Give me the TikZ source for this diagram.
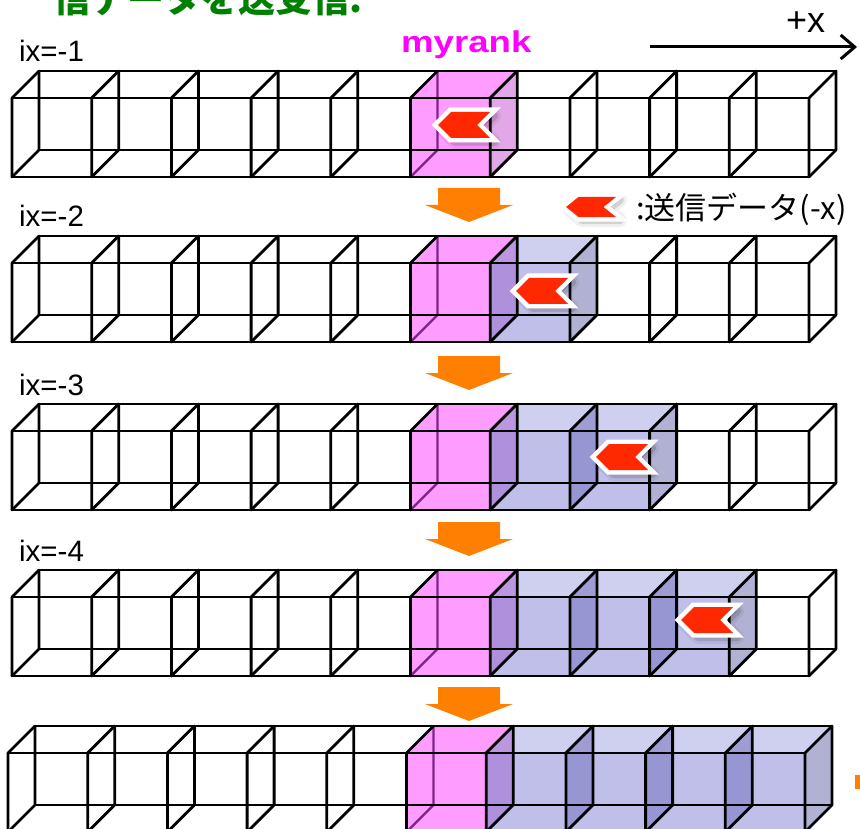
\documentclass[tikz,border=0pt]{standalone}
\usepackage{fontspec}
\setmainfont{Liberation Sans}
\newfontfamily\jp{Noto Sans CJK JP}
\usetikzlibrary{arrows.meta}
\definecolor{tgreen}{RGB}{0,128,0}
\definecolor{mag}{RGB}{255,0,255}
\definecolor{magside}{RGB}{190,60,200}
\definecolor{bfront}{RGB}{120,120,210}
\definecolor{bside}{RGB}{100,100,170}
\definecolor{hidpurple}{RGB}{125,35,140}
\definecolor{chevred}{RGB}{255,40,0}
\definecolor{orng}{RGB}{255,128,0}
\newcommand\cubeW{79.7}
\newcommand\cubeH{79}
\newcommand\cubeD{27}
\tikzset{
  edge/.style={line width=2.8pt, black, line cap=round, line join=round},
  hiddenedge/.style={line width=2.4pt, hidpurple, line cap=round},
  lbl/.style={anchor=base west, inner sep=0pt},
}
\newcommand\cubefaces[7]{%
  \pgfmathsetmacro\xa{#1*\cubeW}\pgfmathsetmacro\xb{(#1+1)*\cubeW}%
  \fill[#2, fill opacity=#3] (\xa,0) rectangle (\xb,\cubeH);
  \fill[#4, fill opacity=#5] (\xa,0) -- (\xb,0) -- (\xb+\cubeD,-\cubeD) -- (\xa+\cubeD,-\cubeD) -- cycle;
  \fill[#6, fill opacity=#7] (\xb,0) -- (\xb+\cubeD,-\cubeD) -- (\xb+\cubeD,\cubeH-\cubeD) -- (\xb,\cubeH) -- cycle;
}
\newcommand\cuberow[3]{%
  \begin{scope}[shift={(#1,#2)}]
    \cubefaces{5}{mag}{0.39}{mag}{0.39}{magside}{0.45}
    \ifnum#3>0
      \pgfmathtruncatemacro\lastb{5+#3}%
      \foreach \k in {6,...,\lastb}{\cubefaces{\k}{bfront}{0.47}{bfront}{0.35}{bside}{0.5}}
    \fi
    \draw[hiddenedge] (5*\cubeW+\cubeD,-\cubeD) -- (5*\cubeW+\cubeD,\cubeH-\cubeD)
      (5*\cubeW,\cubeH) -- (5*\cubeW+\cubeD,\cubeH-\cubeD);
    \draw[edge] (0,0) -- (10*\cubeW,0) (0,\cubeH) -- (10*\cubeW,\cubeH)
      (\cubeD,-\cubeD) -- (10*\cubeW+\cubeD,-\cubeD)
      (\cubeD,\cubeH-\cubeD) -- (10*\cubeW+\cubeD,\cubeH-\cubeD);
    \foreach \k in {0,...,10}{%
      \pgfmathsetmacro\xa{\k*\cubeW}%
      \draw[edge] (\xa,0) -- (\xa,\cubeH) (\xa,0) -- (\xa+\cubeD,-\cubeD);
      \ifnum\k=5 \else
        \draw[edge] (\xa+\cubeD,-\cubeD) -- (\xa+\cubeD,\cubeH-\cubeD)
          (\xa,\cubeH) -- (\xa+\cubeD,\cubeH-\cubeD);
      \fi
    }
  \end{scope}
}
\newcommand\chevpath{(-27,0) -- (-14,-13) -- (25,-13) -- (12,0) -- (25,13) -- (-14,13) -- cycle}
\newcommand\chevron[4]{%
  \begin{scope}[shift={(#1,#2)}, xscale=#3, yscale=#4]
    \begin{scope}[shift={(4,4)}]
      \filldraw[black, opacity=0.06, line width=14pt, line join=round] \chevpath;
      \filldraw[black, opacity=0.12, line width=8pt, line join=round] \chevpath;
    \end{scope}
    \filldraw[white, line width=9pt, line join=miter] \chevpath;
    \fill[chevred] \chevpath;
  \end{scope}
}
\newcommand\orarrow[1]{%
  \fill[orng] (438,#1) -- (500,#1) -- (500,#1+17) -- (513,#1+17) -- (469,#1+34)
    -- (425,#1+17) -- (438,#1+17) -- cycle;
}
\begin{document}
\begin{tikzpicture}[x=1pt,y=-1pt]
\useasboundingbox (0,0) rectangle (860,829);
\fill[white] (0,0) rectangle (860,829);
\begin{scope}
\clip (0,0) rectangle (860,829);
\node[lbl, text=tgreen, font={\jp\bfseries\fontsize{37}{37}\selectfont}] (title) at (53,12.5) {信データを送受信.};
\cuberow{12}{98}{0}
\cuberow{12}{263}{1}
\cuberow{12}{431}{2}
\cuberow{12}{597}{3}
\cuberow{8}{753}{4}
\orarrow{188}
\orarrow{356}
\orarrow{522}
\orarrow{687}
\fill[orng] (855,775) rectangle (860,789);
\chevron{465}{125}{1}{1}
\chevron{543}{291}{1}{1}
\chevron{623}{457}{1}{1}
\chevron{708}{620}{1}{1}
\chevron{592}{207}{0.96}{0.77}
\end{scope}
\node[lbl, font={\fontsize{29.5}{29.5}\selectfont}] (ix1) at (19,62) {ix=-1};
\node[lbl, font={\fontsize{29.5}{29.5}\selectfont}] (ix2) at (19,227) {ix=-2};
\node[lbl, font={\fontsize{29.5}{29.5}\selectfont}] (ix3) at (19,395) {ix=-3};
\node[lbl, font={\fontsize{29.5}{29.5}\selectfont}] (ix4) at (19,561) {ix=-4};
\node[lbl, text=mag, font={\bfseries\fontsize{30}{30}\selectfont}] (myrank) at (401,53) {\scalebox{1.22}[1]{myrank}};
\node[lbl, font={\fontsize{36}{36}\selectfont}] (px) at (786,33) {+x};
\node[lbl, font={\jp\fontsize{31}{31}\selectfont}] (legend) at (636,220) {:送信データ(-x)};
\coordinate (xa) at (650,47);
\coordinate (xb) at (857,47);
\draw[line width=3pt, -{Straight Barb[length=14pt, width=24pt, line width=3pt]}] (xa) -- (xb);
\end{tikzpicture}
\end{document}
